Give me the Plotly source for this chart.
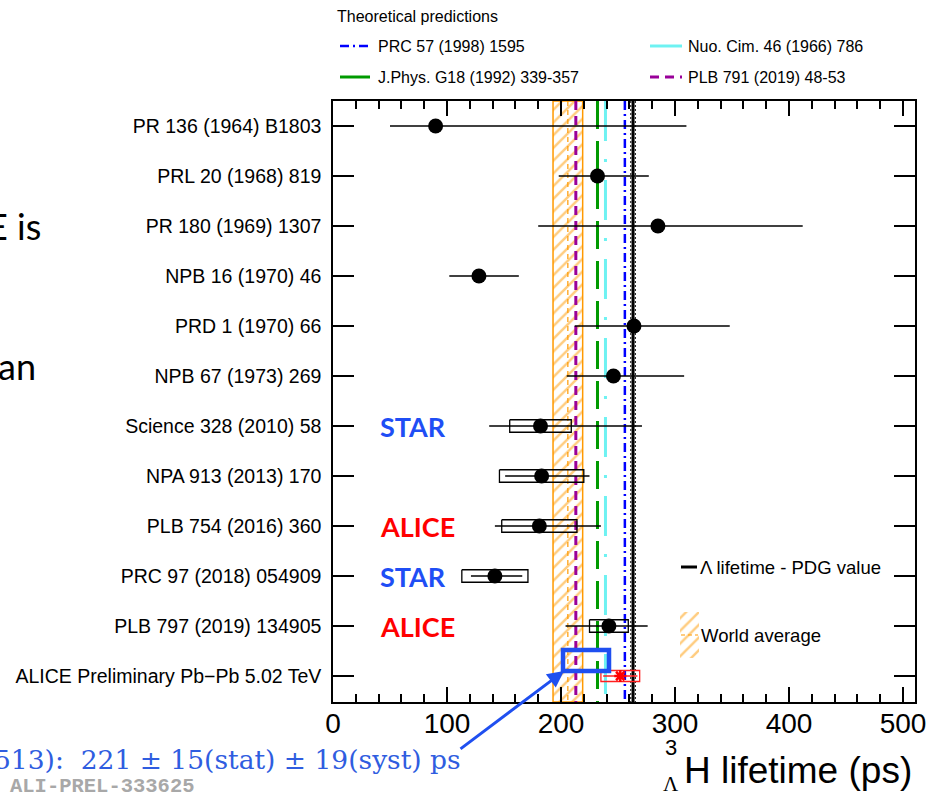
import plotly.graph_objects as go

W, H = 928, 795

# ---------------- data ----------------
categories = [
    "PR 136 (1964) B1803",
    "PRL 20 (1968) 819",
    "PR 180 (1969) 1307",
    "NPB 16 (1970) 46",
    "PRD 1 (1970) 66",
    "NPB 67 (1973) 269",
    "Science 328 (2010) 58",
    "NPA 913 (2013) 170",
    "PLB 754 (2016) 360",
    "PRC 97 (2018) 054909",
    "PLB 797 (2019) 134905",
    "ALICE Preliminary Pb\u2212Pb 5.02 TeV",
]
meas_val = [90, 232, 285, 128, 264, 246, 182, 183, 181, 142, 242]
meas_stat_hi = [220, 45, 127, 35, 84, 62, 89, 42, 54, 24, 34]
meas_stat_lo = [40, 34, 105, 26, 52, 41, 45, 32, 39, 21, 38]
meas_syst = [0, 0, 0, 0, 0, 0, 27, 37, 33, 29, 17]

prelim_val = 252
prelim_stat = 15
prelim_syst = 17

theory_names = ["PRC 57 (1998) 1595", "Nuo. Cim. 46 (1966) 786",
                "J.Phys. G18 (1992) 339-357", "PLB 791 (2019) 48-53"]
theory_vals = [256, 239, 232, 213]
theory_colors = ["#0000ff", "#6ef2f2", "#009a00", "#990099"]
theory_dash = ["9px,4px,2px,4px", "40px,18px,3px,18px", "28px,12px", "9px,6px"]
theory_legend_dash = ["9px,4px,2px,4px", "solid", "solid", "9px,6px"]

wa_val, wa_lo, wa_hi = 206, 193, 219
pdg_val, pdg_err = 263.2, 2.0

exp_tags = [(6, "STAR"), (8, "ALICE"), (9, "STAR"), (10, "ALICE")]
exp_colors = {"STAR": "#1f4ef5", "ALICE": "#ff0000"}

x_ticks = [0, 100, 200, 300, 400, 500]

# ---------------- layout geometry (pixels) ----------------
PL, PR, PT, PB = 333, 915, 101, 702
X_RANGE = [0, 510.5]
Y_RANGE = [11.52, -0.5]
Y_FULL = [-0.5, 11.52]
BOX_H = 0.125

FONT = "Liberation Sans, Arial, sans-serif"
HATCH = dict(shape="/", fgcolor="#ff9900", bgcolor="rgba(0,0,0,0)", size=9, solidity=0.28)

fig = go.Figure()

# world-average hatched band
fig.add_trace(go.Scatter(
    x=[wa_lo, wa_hi, wa_hi, wa_lo, wa_lo],
    y=[Y_FULL[0], Y_FULL[0], Y_FULL[1], Y_FULL[1], Y_FULL[0]],
    mode="lines", fill="toself", fillcolor="rgba(0,0,0,0)", fillpattern=HATCH,
    line=dict(color="#ff9900", width=1.5),
    xaxis="x", yaxis="y", showlegend=False, hoverinfo="skip"))
fig.add_trace(go.Scatter(
    x=[wa_val, wa_val], y=Y_FULL, mode="lines",
    line=dict(color="#ff9900", width=1.2, dash="5px,4px"),
    xaxis="x", yaxis="y", showlegend=False, hoverinfo="skip"))

# theory lines
for v, c, d in zip(theory_vals, theory_colors, theory_dash):
    fig.add_trace(go.Scatter(
        x=[v, v], y=Y_FULL, mode="lines",
        line=dict(color=c, width=3 if c != "#0000ff" else 2.5, dash=d),
        xaxis="x", yaxis="y", showlegend=False, hoverinfo="skip"))

# PDG lambda lifetime
for dv in (-pdg_err, pdg_err):
    fig.add_trace(go.Scatter(
        x=[pdg_val + dv, pdg_val + dv], y=Y_FULL, mode="lines",
        line=dict(color="black", width=1, dash="2px,2px"),
        xaxis="x", yaxis="y", showlegend=False, hoverinfo="skip"))
fig.add_trace(go.Scatter(
    x=[pdg_val, pdg_val], y=Y_FULL, mode="lines",
    line=dict(color="black", width=3),
    xaxis="x", yaxis="y", showlegend=False, hoverinfo="skip"))

# systematic boxes
bx, by = [], []
for i, (v, s) in enumerate(zip(meas_val, meas_syst)):
    if s > 0:
        bx += [v - s, v + s, v + s, v - s, v - s, None]
        by += [i - BOX_H, i - BOX_H, i + BOX_H, i + BOX_H, i - BOX_H, None]
fig.add_trace(go.Scatter(x=bx, y=by, mode="lines",
                         line=dict(color="black", width=1.3),
                         xaxis="x", yaxis="y", showlegend=False, hoverinfo="skip"))

# measurements
idx = list(range(len(meas_val)))
fig.add_trace(go.Scatter(
    x=meas_val, y=idx, mode="markers",
    marker=dict(symbol="circle", size=15, color="black"),
    error_x=dict(type="data", symmetric=False, array=meas_stat_hi,
                 arrayminus=meas_stat_lo, color="black", thickness=1.5, width=0),
    xaxis="x", yaxis="y", showlegend=False, hoverinfo="skip"))

# ALICE preliminary
pi = len(categories) - 1
fig.add_trace(go.Scatter(
    x=[prelim_val - prelim_syst, prelim_val + prelim_syst, prelim_val + prelim_syst,
       prelim_val - prelim_syst, prelim_val - prelim_syst],
    y=[pi - 0.11, pi - 0.11, pi + 0.11, pi + 0.11, pi - 0.11],
    mode="lines", line=dict(color="#ff2020", width=1.3),
    xaxis="x", yaxis="y", showlegend=False, hoverinfo="skip"))
fig.add_trace(go.Scatter(
    x=[prelim_val], y=[pi], mode="markers",
    marker=dict(symbol="asterisk-open", size=10, color="#ff0000",
                line=dict(color="#ff0000", width=2.5)),
    error_x=dict(type="data", array=[prelim_stat], color="#ff2020",
                 thickness=1.5, width=0),
    xaxis="x", yaxis="y", showlegend=False, hoverinfo="skip"))

# ---------------- pixel overlay layer (x2/y2) ----------------
def pline(x0, x1, y, color, dash, width):
    fig.add_trace(go.Scatter(x=[x0, x1], y=[y, y], mode="lines",
                             line=dict(color=color, dash=dash, width=width),
                             xaxis="x2", yaxis="y2", showlegend=False, hoverinfo="skip"))

# theory legend samples
leg_pos = [(340, 370, 46), (650, 682, 46), (340, 370, 77), (650, 682, 77)]
for (x0, x1, yy), c, d in zip(leg_pos, theory_colors, theory_legend_dash):
    pline(x0, x1, yy, c, d, 3 if c != "#0000ff" else 2.5)

# lambda PDG legend sample
pline(681, 697, 567, "black", "solid", 3)

# world average legend hatched box
fig.add_trace(go.Scatter(
    x=[680, 699, 699, 680, 680], y=[612, 612, 658, 658, 612],
    mode="lines", fill="toself", fillcolor="rgba(0,0,0,0)", fillpattern=HATCH,
    line=dict(color="rgba(0,0,0,0)", width=0),
    xaxis="x2", yaxis="y2", showlegend=False, hoverinfo="skip"))
pline(681, 698, 635, "#ff9900", "4px,3px", 1.2)

annotations = []


def ptext(x, y, text, size, color="black", xanchor="left", family=FONT, **kw):
    annotations.append(dict(x=x, y=y, xref="x2", yref="y2", text=text,
                            showarrow=False, xanchor=xanchor, yanchor="middle",
                            font=dict(size=size, color=color, family=family), **kw))


ptext(335, 16, "Theoretical predictions", 16)
text_pos = [(376, 46), (686, 46), (376, 77), (686, 77)]
for (tx, ty), name in zip(text_pos, theory_names):
    ptext(tx, ty, name, 16)

ptext(698, 567, "\u039b lifetime - PDG value", 18.5)
ptext(699, 635, "World average", 18.5)

# experiment tags (placed on category rows through the data y-axis)
for i, tag in exp_tags:
    annotations.append(dict(x=378, y=i, xref="x2", yref="y", text="<b>%s</b>" % tag,
                            showarrow=False, xanchor="left", yanchor="middle",
                            font=dict(size=27, color=exp_colors[tag],
                                      family="Lato, Open Sans, sans-serif")))

# x-axis title
ptext(682, 770, "H lifetime (ps)", 37)
ptext(671, 747, "3", 22, xanchor="center")
ptext(671, 784, "\u039b", 21, xanchor="center", family="Liberation Serif, serif")

# slide overlay text
ptext(43, 226, "E is", 36, xanchor="right", family="Lato, sans-serif")
ptext(38, 366, "an", 36, xanchor="right", family="Lato, sans-serif")
ptext(463, 759, "513):  221 \u00b1 15(stat) \u00b1 19(syst) ps", 26.5, color="#2f5de0",
      xanchor="right", family="DejaVu Serif, serif")
ptext(8, 786, "<b>ALI-PREL-333625</b>", 20.5, color="#a8a8a8",
      family="Liberation Mono, monospace")

# arrow
annotations.append(dict(x=564, y=671, xref="x2", yref="y2", ax=459, ay=750,
                        axref="x2", ayref="y2", showarrow=True, text="",
                        arrowhead=2, arrowsize=1.1, arrowwidth=3, arrowcolor="#1f4ff0"))

shapes = [dict(type="rect", xref="x2", yref="y2", x0=563, x1=609, y0=650, y1=671,
               line=dict(color="#1f4ff0", width=4.5), fillcolor="rgba(0,0,0,0)",
               layer="above")]

fig.update_layout(
    width=W, height=H,
    margin=dict(l=0, r=0, t=0, b=0, pad=0, autoexpand=False),
    paper_bgcolor="white", plot_bgcolor="rgba(0,0,0,0)",
    showlegend=False,
    annotations=annotations, shapes=shapes,
    xaxis=dict(domain=[PL / W, PR / W], range=X_RANGE, anchor="y", automargin=False,
               showline=True, linecolor="black", linewidth=1.5, mirror="allticks",
               ticks="inside", ticklen=15, tickwidth=1.5, tickcolor="black",
               tickvals=x_ticks, ticktext=[str(t) for t in x_ticks],
               tickfont=dict(size=28, family=FONT, color="black"),
               ticklabelstandoff=-4,
               minor=dict(dtick=20, tick0=0, ticks="inside", ticklen=8,
                          tickwidth=1.5, tickcolor="black"),
               showgrid=False, zeroline=False, fixedrange=True),
    yaxis=dict(domain=[1 - PB / H, 1 - PT / H], range=Y_RANGE, anchor="x", automargin=False,
               showline=True, linecolor="black", linewidth=1.5, mirror="allticks",
               ticks="inside", ticklen=21, tickwidth=1.5, tickcolor="black",
               tickvals=idx + [pi], ticktext=categories,
               tickfont=dict(size=19.5, family=FONT, color="black"),
               ticklabelstandoff=6,
               showgrid=False, zeroline=False, fixedrange=True),
    xaxis2=dict(domain=[0, 1], range=[0, W], anchor="y2", visible=False,
                fixedrange=True, automargin=False),
    yaxis2=dict(domain=[0, 1], range=[H, 0], anchor="x2", visible=False,
                fixedrange=True, automargin=False),
)

fig.write_html("out.html")
